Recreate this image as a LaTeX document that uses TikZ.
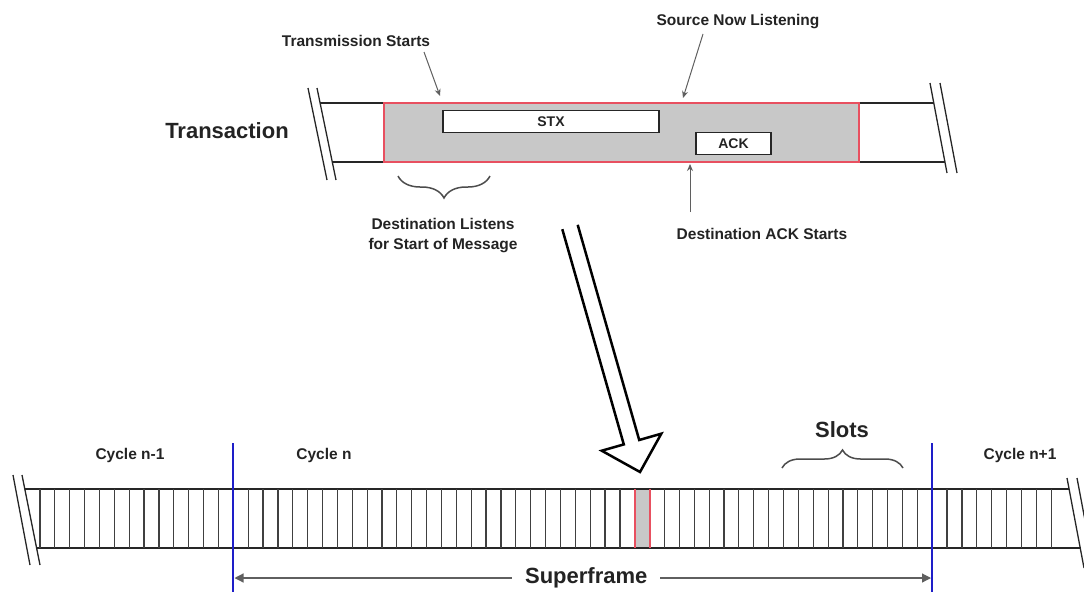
\documentclass[tikz,border=0pt]{standalone}
\usepackage{fontspec}
\setmainfont{Liberation Sans}
\usetikzlibrary{arrows.meta,decorations.pathreplacing}
\definecolor{barred}{RGB}{232,80,96}
\definecolor{slotgray}{RGB}{200,200,200}
\definecolor{cyblue}{RGB}{30,30,200}
\definecolor{arrgray}{RGB}{95,95,95}
\definecolor{txt}{RGB}{35,35,35}
\begin{document}
\begin{tikzpicture}[x=1pt,y=-1pt,
  small/.style={font=\fontsize{15.5}{20}\selectfont\bfseries, text=txt, inner sep=0pt},
  big/.style={font=\fontsize{22}{26}\selectfont\bfseries, text=txt, inner sep=0pt},
  boxlbl/.style={draw=black!85, line width=1.3pt, fill=white, inner sep=0pt,
    font=\fontsize{14}{16}\selectfont\bfseries, text=txt},
  lbl/.style={draw=arrgray, line width=1pt, -{Stealth[length=7pt,width=6pt]}},
  bar/.style={line width=1.3pt, draw=black!85},
  brk/.style={line width=1.3pt, draw=black!85},
  slot/.style={line width=1.2pt, draw=black!75},
  redline/.style={line width=1.6pt, draw=barred},
  blueline/.style={line width=2pt, draw=cyblue},
  brc/.style={draw=black!70, line width=1.5pt, decorate},
  hollow/.style={draw=black, line width=2.5pt, fill=white, line join=miter}
]
\useasboundingbox (0,0) rectangle (1084,592);

% ---------- Transaction bar ----------
\fill[slotgray] (384,103) rectangle (859,162);
\draw[bar] (320,103) -- (934,103);
\draw[bar] (332,162) -- (945,162);
\draw[redline] (384,103) rectangle (859,162);
\draw[brk] (308,88) -- (327,180);
\draw[brk] (317,88) -- (336,180);
\draw[brk] (930,83) -- (947,173);
\draw[brk] (940,83) -- (957,173);

\node[boxlbl, minimum width=216, minimum height=22.5] (stx) at (551,121.5) {STX};
\node[boxlbl, minimum width=75, minimum height=21.5] (ack) at (733.5,143.5) {ACK};

\node[big] (tr) at (227,131) {Transaction};

\node[small] (ts) at (356,41) {Transmission Starts};
\coordinate (tsS) at (424,52);
\coordinate (tsE) at (440,96);
\draw[lbl] (tsS) -- (tsE);

\node[small] (snl) at (738,22) {Source Now Listening};
\coordinate (snS) at (703,34);
\coordinate (snE) at (683,98);
\draw[lbl] (snS) -- (snE);

\coordinate (brR) at (490,176);
\coordinate (brL) at (398,176);
\draw[brc, decoration={brace, amplitude=22pt}] (brR) -- (brL);
\node[small, align=center] (dl) at (443,236) {Destination Listens\\for Start of Message};

\coordinate (ackS) at (690,212);
\coordinate (ackE) at (690,164);
\draw[lbl] (ackS) -- (ackE);
\node[small] (das) at (762,234) {Destination ACK Starts};

% ---------- big hollow arrow ----------
\draw[hollow] (562.3,229.2) -- (623.8,444.4) -- (601.7,450.7) -- (640,472)
  -- (661.3,433.7) -- (639.2,440) -- (577.7,224.8);

% ---------- slot bar ----------
\fill[slotgray] (634.8,489) rectangle (649.7,548);
\draw[bar] (25,489) -- (1069,489);
\draw[bar] (37,548) -- (1080,548);
\foreach \k in {-13,...,55} {
  \draw[slot] ({233.3+\k*14.87},489) -- ++(0,59);
}
\draw[redline] (634.8,489) -- (634.8,548);
\draw[redline] (649.7,489) -- (649.7,548);
\draw[brk] (13,475) -- (30,565);
\draw[brk] (22,475) -- (40,565);
\draw[brk] (1067,478) -- (1084,568);
\draw[brk] (1077,478) -- (1094,568);

\coordinate (b1t) at (233.3,443);
\coordinate (b1b) at (233.3,592);
\coordinate (b2t) at (932.2,443);
\coordinate (b2b) at (932.2,592);
\draw[blueline] (b1t) -- (b1b);
\draw[blueline] (b2t) -- (b2b);

\coordinate (sfL) at (234.5,578);
\coordinate (sfR) at (931,578);
\draw[draw=arrgray, line width=1.2pt, {Triangle[length=9pt,width=9pt]}-{Triangle[length=9pt,width=9pt]}]
  (sfL) -- (sfR) node[pos=0.505, fill=white, big, inner xsep=13pt, inner ysep=2pt] (sf) {Superframe};

\node[small] (c1) at (130,455) {Cycle n-1};
\node[small] (c2) at (324,455) {Cycle n};
\node[small] (c3) at (1020,455) {Cycle n+1};
\node[big] (slots) at (842,430) {Slots};
\coordinate (sbL) at (782,468);
\coordinate (sbR) at (903,468);
\draw[brc, decoration={brace, amplitude=18pt}] (sbL) -- (sbR);
\end{tikzpicture}
\end{document}
